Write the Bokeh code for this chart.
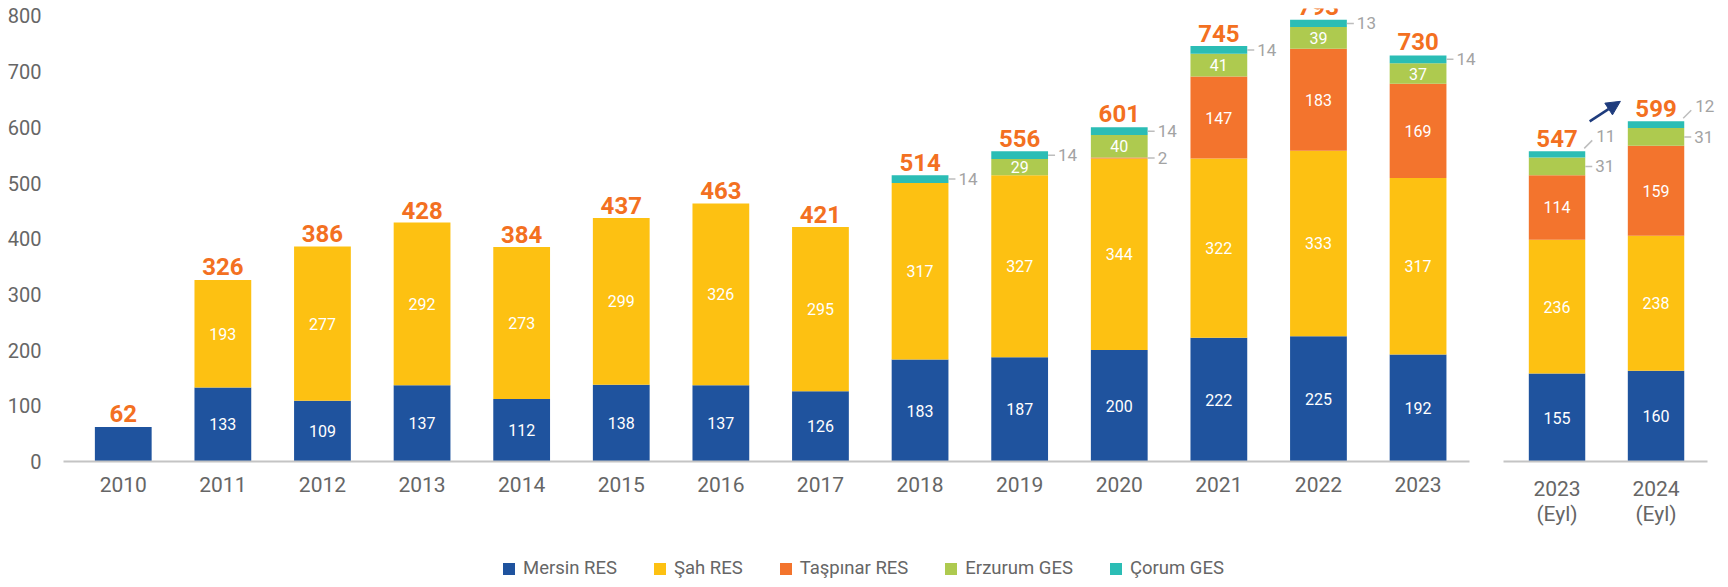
from bokeh.plotting import figure
from bokeh.models import (ColumnDataSource, FixedTicker, Legend, LegendItem, Arrow,
                          NormalHead, Range1d)
from bokeh.layouts import row, column
from bokeh.embed import file_html
from bokeh.resources import INLINE
from bokeh.core.properties import value

# ---------------- data ----------------
years = ["2010", "2011", "2012", "2013", "2014", "2015", "2016", "2017",
         "2018", "2019", "2020", "2021", "2022", "2023"]
mersin = [62, 133, 109, 137, 112, 138, 137, 126, 183, 187, 200, 222, 225, 192]
sah = [0, 193, 277, 292, 273, 299, 326, 295, 317, 327, 344, 322, 333, 317]
taspinar = [0, 0, 0, 0, 0, 0, 0, 0, 0, 0, 2, 147, 183, 169]
erzurum = [0, 0, 0, 0, 0, 0, 0, 0, 0, 29, 40, 41, 39, 37]
corum = [0, 0, 0, 0, 0, 0, 0, 0, 14, 14, 14, 14, 13, 14]
totals = [62, 326, 386, 428, 384, 437, 463, 421, 514, 556, 601, 745, 793, 730]

eyl_periods = ["2023\n(Eyl)", "2024\n(Eyl)"]
eyl_mersin = [155, 160]
eyl_sah = [236, 238]
eyl_taspinar = [114, 159]
eyl_erzurum = [31, 31]
eyl_corum = [11, 12]
eyl_totals = [547, 599]

series_names = ["Mersin RES", "Şah RES", "Taşpınar RES", "Erzurum GES", "Çorum GES"]
colors = ["#1f539e", "#fdc112", "#f3742d", "#aeca4f", "#2bbdb5"]

FONT = "Roboto"
TOTAL_COLOR = "#f37021"
TICK_COLOR = "#666666"
SIDE_COLOR = "#a3a3a3"
LEADER_COLOR = "#bdbdbd"
BAR_W = 0.57

TOP = 8
FRAME_H = 453
BORDER_B = 88
FIG_H = TOP + FRAME_H + BORDER_B
LEG_H = 30


def make_panel(cats, data_lists, tot, frame_left_px, frame_w, x_start, px_x, px_y,
               axis_bounds, eyl, show_y):
    x_end = x_start + frame_w / px_x
    y_end = FRAME_H / px_y
    p = figure(width=frame_w + frame_left_px, height=FIG_H,
               x_range=Range1d(x_start, x_end), y_range=Range1d(0, y_end),
               output_backend="svg", toolbar_location=None,
               min_border_left=frame_left_px, min_border_right=0,
               min_border_top=TOP, min_border_bottom=BORDER_B,
               y_axis_location="left" if show_y else None)
    p.outline_line_color = None
    p.grid.visible = False
    p.background_fill_color = None
    p.border_fill_color = None

    xs = list(range(len(cats)))
    src = {"x": xs}
    for name, vals in zip(series_names, data_lists):
        src[name] = vals
    p.vbar_stack(series_names, x="x", width=BAR_W, color=colors,
                 source=ColumnDataSource(src), line_color=None)

    in_x, in_y, in_t = [], [], []
    out_x, out_y, out_t = [], [], []
    lx0, ly0, lx1, ly1 = [], [], [], []
    for i in xs:
        bottom = 0
        nonzero = sum(1 for vals in data_lists if vals[i] > 0)
        edge = i + BAR_W / 2
        for k, vals in enumerate(data_lists):
            v = vals[i]
            if v <= 0:
                continue
            top = bottom + v
            c = bottom + v / 2
            if k == 4 and eyl:
                lx0.append(edge - 1 / px_x); ly0.append(top + 3 / px_y)
                lx1.append(edge + 7 / px_x); ly1.append(top + 11 / px_y)
                out_x.append(edge + 11 / px_x); out_y.append(top + 15.5 / px_y)
                out_t.append(str(v))
            elif v < 20 or (k == 3 and eyl):
                lx0.append(edge); ly0.append(c)
                lx1.append(edge + 7 / px_x); ly1.append(c)
                out_x.append(edge + 10 / px_x); out_y.append(c)
                out_t.append(str(v))
            elif nonzero > 1:
                in_x.append(i); in_y.append(c); in_t.append(str(v))
            bottom = top

    p.text(x=in_x, y=in_y, text=in_t, text_color="white", text_font=value(FONT),
           text_font_size="16px", text_align="center", text_baseline="middle")
    p.segment(x0=lx0, y0=ly0, x1=lx1, y1=ly1, line_color=LEADER_COLOR, line_width=1.5)
    p.text(x=out_x, y=out_y, text=out_t, text_color=SIDE_COLOR, text_font=value(FONT),
           text_font_size="17px", text_align="left", text_baseline="middle")
    p.text(x=xs, y=tot, text=[str(t) for t in tot], text_color=TOTAL_COLOR,
           text_font=value(FONT), text_font_style="bold", text_font_size="24px",
           text_align="center", text_baseline="alphabetic", y_offset=-13)

    ax = p.xaxis[0]
    ax.ticker = FixedTicker(ticks=xs)
    ax.major_label_overrides = {i: c for i, c in enumerate(cats)}
    ax.bounds = axis_bounds
    ax.axis_line_color = "#c4c4c4"
    ax.axis_line_width = 2
    ax.major_tick_line_color = None
    ax.minor_tick_line_color = None
    ax.major_label_standoff = 9
    ax.major_label_text_font = FONT
    ax.major_label_text_font_size = "21px"
    ax.major_label_text_color = TICK_COLOR
    ax.major_label_text_line_height = 1.05

    if show_y:
        ya = p.yaxis[0]
        ya.ticker = FixedTicker(ticks=list(range(0, 801, 100)))
        ya.axis_line_color = None
        ya.major_tick_line_color = None
        ya.minor_tick_line_color = None
        ya.major_label_standoff = 16
        ya.major_label_text_font = FONT
        ya.major_label_text_font_size = "20px"
        ya.major_label_text_color = TICK_COLOR
    return p


main_lists = [mersin, sah, taspinar, erzurum, corum]
eyl_lists = [eyl_mersin, eyl_sah, eyl_taspinar, eyl_erzurum, eyl_corum]

PX_X1 = 99.6
f1 = make_panel(years, main_lists, totals, 63, 1427, -0.6, PX_X1, 0.557,
                (-0.6, -0.6 + 1406 / PX_X1), False, True)

PX_X2 = 99.0
PX_Y2 = 0.567
X2_START = -0.672
f2 = make_panel(eyl_periods, eyl_lists, eyl_totals, 0, 230, X2_START, PX_X2, PX_Y2,
                (X2_START + 13 / PX_X2, X2_START + 217 / PX_X2), True, False)

arrow_c = "#1f3c7d"
f2.add_layout(Arrow(end=NormalHead(size=14, fill_color=arrow_c, line_color=arrow_c),
                    x_start=0.33, y_start=eyl_totals[0] + 30 / PX_Y2,
                    x_end=0.64, y_end=eyl_totals[0] + 50 / PX_Y2,
                    line_color=arrow_c, line_width=2.5))

# legend strip (swatch renderers sit outside its visible range)
f3 = figure(width=1490 + 230, height=LEG_H, output_backend="svg", toolbar_location=None,
            min_border=0, x_range=Range1d(0, 1), y_range=Range1d(0, 1),
            x_axis_location=None, y_axis_location=None)
f3.outline_line_color = None
f3.grid.visible = False
f3.background_fill_color = None
f3.border_fill_color = None
items = []
for name, col in zip(series_names, colors):
    r = f3.vbar(x="x", top="top", width=0.1, color=col, line_color=None,
                source=ColumnDataSource(dict(x=[-5.0], top=[0.0])))
    items.append(LegendItem(label=name, renderers=[r]))
legend = Legend(items=items, orientation="horizontal", location=(501, 0),
                glyph_width=15, glyph_height=15, label_standoff=7, spacing=35,
                padding=0, margin=0, border_line_color=None,
                background_fill_alpha=0, label_text_font=FONT,
                label_text_font_size="18.5px", label_text_color=TICK_COLOR)
f3.add_layout(legend)

layout = column(row(f1, f2), f3)
open("out.html", "w").write(file_html(layout, INLINE))
